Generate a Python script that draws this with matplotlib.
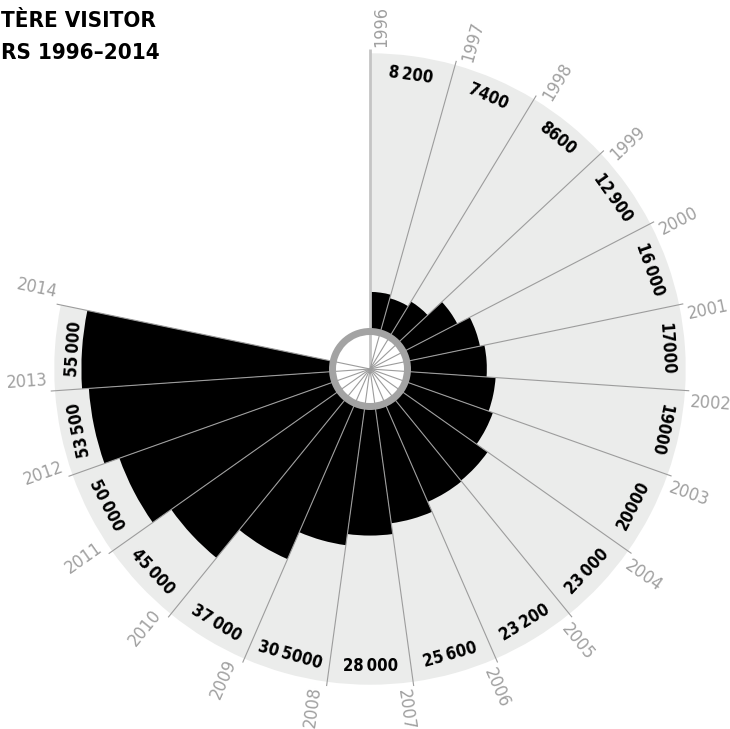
import numpy as np
import matplotlib.pyplot as plt

# data
years = list(range(1996, 2015))
visitors = [8200, 7400, 8600, 12900, 16000, 17000, 19000, 20000, 23000,
            23200, 25600, 28000, 30500, 37000, 45000, 50000, 53500, 55000]
value_labels = ["8\u2009200", "7400", "8600", "12\u2009900", "16\u2009000", "17000",
                "19000", "20000", "23\u2009000", "23\u2009200", "25\u2009600", "28\u2009000",
                "30\u20095000", "37\u2009000", "45\u2009000", "50\u2009000", "53\u2009500",
                "55\u2009000"]
title_lines = ["TÈRE VISITOR", "RS 1996\u20132014"]

FONT = ['DejaVu Sans']
BG = '#ebeceb'
GREY = '#9c9c9c'

# geometry (pixels) -> radial units in visitors
PX = 0.00452          # px per visitor
HOLE = 40 / PX        # radial offset of the zero line
BG_TOP = 61000
LINE_END = 70800
STEP = 15.65          # degrees per sector

W, H = 730, 729
cx, cy = 370, 360     # centre in px from bottom-left
R = 402               # axes radius in px

fig = plt.figure(figsize=(W / 100, H / 100), dpi=100)
ax = fig.add_axes([(cx - R) / W, (cy - R) / H, 2 * R / W, 2 * R / H], projection='polar')
ax.set_theta_zero_location('N')
ax.set_theta_direction(-1)
ax.set_ylim(0, R / PX)
ax.axis('off')

edges = np.arange(len(years)) * STEP
centers = edges[:-1] + STEP / 2
width = np.deg2rad(STEP)

# background sectors
ax.bar(np.deg2rad(centers), BG_TOP, width=width, bottom=HOLE, color=BG, linewidth=0, zorder=1)
# black bars
ax.bar(np.deg2rad(centers), visitors, width=width, bottom=HOLE, color='black', linewidth=0, zorder=2)

# year lines
for i, e in enumerate(edges):
    ax.plot([np.deg2rad(e)] * 2, [0, LINE_END], color='#c4c4c4' if i == 0 else GREY,
            lw=2 if i == 0 else 0.8, zorder=3, solid_capstyle='butt')

# grey ring round the hole
ax.bar(0, 7 / PX, width=2 * np.pi, bottom=34 / PX, color='#a3a3a3', linewidth=0, zorder=4)

# year labels
r_year = 343
for y, e in zip(years, edges):
    rot = 90 - e if e < 180 else 270 - e
    th = e + np.degrees(11 / r_year)
    ax.text(np.deg2rad(th), r_year / PX, str(y), rotation=rot, rotation_mode='anchor',
            ha='center', va='center', fontsize=13, color='#a0a0a0', family=FONT,
            fontstretch='condensed')

# value labels
r_val = 297
for lab, c in zip(value_labels, centers):
    rot = 180 - c if 105 < c < 255 else -c
    ax.text(np.deg2rad(c), r_val / PX, lab, rotation=rot, rotation_mode='anchor',
            ha='center', va='center', fontsize=12, fontweight='bold', color='black',
            family=FONT, fontstretch='condensed')

fig.text(0.002, (H - 27) / H, title_lines[0], fontsize=16, fontweight='bold',
         family=FONT, fontstretch='condensed', va='baseline')
fig.text(0.002, (H - 59) / H, title_lines[1], fontsize=16, fontweight='bold',
         family=FONT, fontstretch='condensed', va='baseline')

fig.savefig('out.png', dpi=100)
